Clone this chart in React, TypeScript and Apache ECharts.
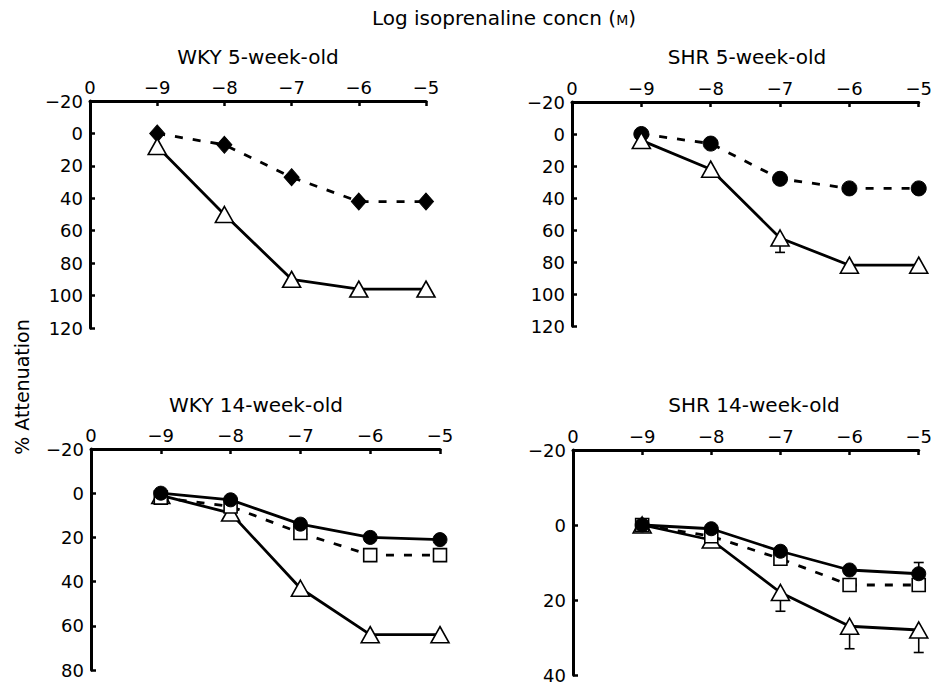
import React, { useEffect, useRef } from "react";
import * as echarts from "echarts";

const xTickLabels = ["0", "−9", "−8", "−7", "−6", "−5"];
const xPositions = [1, 2, 3, 4, 5];

const wky5Diamond = [0, 7, 27, 42, 42];
const wky5Triangle = [8, 50, 90, 96, 96];

const shr5Circle = [0, 6, 28, 34, 34];
const shr5Triangle = [4, 22, 65, 82, 82];
const shr5TriangleErr = [0, 5, 9, 4, 4];

const wky14Circle = [0, 3, 14, 20, 21];
const wky14Square = [2, 6, 18, 28, 28];
const wky14SquareErr = [0, 0, 0, 2, 2];
const wky14Triangle = [1, 9, 43, 64, 64];

const shr14Circle = [0, 1, 7, 12, 13];
const shr14CircleErrUp = [0, 0, 0, 0, 3];
const shr14Square = [0, 3, 9, 16, 16];
const shr14Triangle = [0, 4, 18, 27, 28];
const shr14TriangleErr = [0, 0, 5, 6, 6];

const panelTitles = ["WKY 5-week-old", "SHR 5-week-old", "WKY 14-week-old", "SHR 14-week-old"];
const yRanges = [
  [-20, 120],
  [-20, 120],
  [-20, 80],
  [-20, 40],
];

const FONT = "DejaVu Sans";

export default function App() {
  const ref = useRef<HTMLDivElement>(null);
  useEffect(() => {
    document.body.style.margin = "0";
    const chart = echarts.init(ref.current!, null, { renderer: "svg" });

    const grids = [
      { left: 90, top: 101, width: 336, height: 227 },
      { left: 572, top: 102, width: 350, height: 224 },
      { left: 91, top: 449, width: 349, height: 221 },
      { left: 573, top: 450, width: 349, height: 225 },
    ];

    const fmtNum = (v: number) => (v < 0 ? "−" + Math.abs(v) : String(v));

    const xAxes = grids.map((_, i) => ({
      type: "value",
      gridIndex: i,
      position: "top",
      min: 0,
      max: 5,
      interval: 1,
      axisLine: { show: true, onZero: false, lineStyle: { color: "#000", width: 3 } },
      axisTick: { show: true, inside: true, length: 5, lineStyle: { color: "#000", width: 2.5 } },
      axisLabel: {
        color: "#000",
        fontSize: 18,
        fontFamily: FONT,
        margin: 5,
        formatter: (v: number) => xTickLabels[Math.round(v)] ?? "",
      },
      splitLine: { show: false },
    }));

    const yAxes = grids.map((_, i) => ({
      type: "value",
      gridIndex: i,
      inverse: true,
      min: yRanges[i][0],
      max: yRanges[i][1],
      interval: 20,
      axisLine: { show: true, onZero: false, lineStyle: { color: "#000", width: 3 } },
      axisTick: { show: true, inside: true, length: 5, lineStyle: { color: "#000", width: 2.5 } },
      axisLabel: {
        color: "#000",
        fontSize: 18,
        fontFamily: FONT,
        margin: 7,
        formatter: fmtNum,
      },
      splitLine: { show: false },
    }));

    const toData = (vals: number[]) => vals.map((v, i) => [xPositions[i], v]);

    const lineSeries = (
      idx: number,
      vals: number[],
      symbol: string,
      filled: boolean,
      dashed: boolean,
      size: number | number[]
    ) => ({
      type: "line",
      xAxisIndex: idx,
      yAxisIndex: idx,
      data: toData(vals),
      symbol,
      symbolSize: size,
      showSymbol: true,
      lineStyle: { color: "#000", width: 2.8, type: dashed ? [8, 10] : "solid" },
      itemStyle: filled
        ? { color: "#000", borderColor: "#000", borderWidth: 1 }
        : { color: "#fff", borderColor: "#000", borderWidth: 1.6 },
      z: 3,
    });

    const errSeries = (idx: number, vals: number[], errs: number[], dir: number) => ({
      type: "custom",
      xAxisIndex: idx,
      yAxisIndex: idx,
      z: 1,
      data: vals.map((v, i) => [xPositions[i], v, v + dir * errs[i], errs[i]]),
      renderItem: (params: any, api: any) => {
        if (api.value(3) === 0) return null;
        const p0 = api.coord([api.value(0), api.value(1)]);
        const p1 = api.coord([api.value(0), api.value(2)]);
        return {
          type: "group",
          children: [
            {
              type: "line",
              shape: { x1: p0[0], y1: p0[1], x2: p1[0], y2: p1[1] },
              style: { stroke: "#000", lineWidth: 1.6 },
            },
            {
              type: "line",
              shape: { x1: p1[0] - 5, y1: p1[1], x2: p1[0] + 5, y2: p1[1] },
              style: { stroke: "#000", lineWidth: 1.6 },
            },
          ],
        };
      },
    });

    const tri = [18, 16];
    const series: any[] = [
      // WKY 5
      lineSeries(0, wky5Diamond, "diamond", true, true, [15, 17]),
      lineSeries(0, wky5Triangle, "triangle", false, false, tri),
      // SHR 5
      errSeries(1, shr5Triangle, shr5TriangleErr, 1),
      lineSeries(1, shr5Circle, "circle", true, true, 15),
      lineSeries(1, shr5Triangle, "triangle", false, false, tri),
      // WKY 14
      errSeries(2, wky14Square, wky14SquareErr, 1),
      lineSeries(2, wky14Triangle, "triangle", false, false, tri),
      lineSeries(2, wky14Square, "rect", false, true, 13),
      lineSeries(2, wky14Circle, "circle", true, false, 14),
      // SHR 14
      errSeries(3, shr14Triangle, shr14TriangleErr, 1),
      errSeries(3, shr14Circle, shr14CircleErrUp, -1),
      lineSeries(3, shr14Triangle, "triangle", false, false, tri),
      lineSeries(3, shr14Square, "rect", false, true, 13),
      lineSeries(3, shr14Circle, "circle", true, false, 14),
    ];

    const titlePos = [
      [258, 57],
      [747, 57],
      [256, 405],
      [754, 405],
    ];

    const graphic: any[] = panelTitles.map((t, i) => ({
      type: "text",
      x: titlePos[i][0],
      y: titlePos[i][1],
      style: {
        text: t,
        fill: "#000",
        font: `20px "${FONT}"`,
        textAlign: "center",
        textVerticalAlign: "middle",
      },
    }));
    graphic.push({
      type: "text",
      x: 504,
      y: 18,
      style: {
        text: "Log isoprenaline concn ({sc|M})",
        fill: "#000",
        font: `20px "${FONT}"`,
        textAlign: "center",
        textVerticalAlign: "middle",
        rich: { sc: { fontSize: 14, fontFamily: FONT, fill: "#000", padding: [3, 0, 0, 0] } },
      },
    });
    graphic.push({
      type: "text",
      x: 22,
      y: 387,
      rotation: Math.PI / 2,
      style: {
        text: "% Attenuation",
        fill: "#000",
        font: `19px "${FONT}"`,
        textAlign: "center",
        textVerticalAlign: "middle",
      },
    });

    chart.setOption({
      animation: false,
      backgroundColor: "#fff",
      grid: grids,
      xAxis: xAxes,
      yAxis: yAxes,
      series,
      graphic,
    });
    return () => chart.dispose();
  }, []);
  return <div ref={ref} style={{ width: 935, height: 687 }} />;
}
